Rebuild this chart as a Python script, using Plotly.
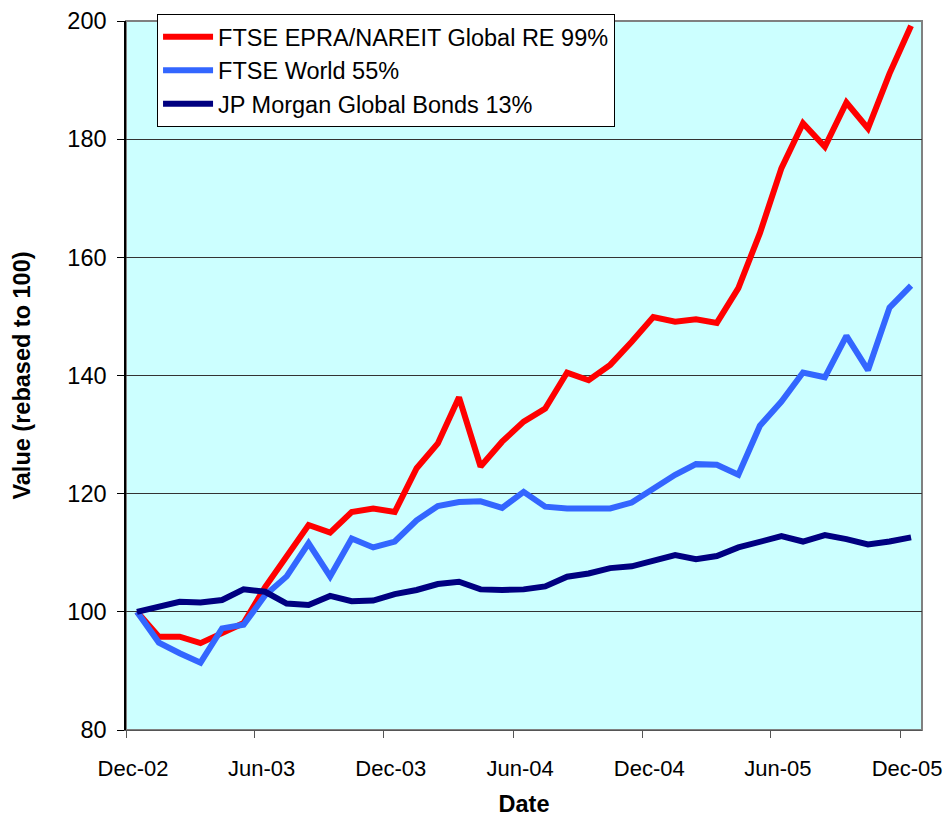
import plotly.graph_objects as go

# Monthly observations, Dec-02 .. Dec-05
months = [f"{2002 + (11 + i) // 12}-{(11 + i) % 12 + 1:02d}" for i in range(37)]

series_names = [
    "FTSE EPRA/NAREIT Global RE 99%",
    "FTSE World 55%",
    "JP Morgan Global Bonds 13%",
]

global_re = [100, 95.8, 95.8, 94.7, 96.4, 98.1, 104.2, 109.3, 114.7, 113.4,
             116.9, 117.5, 116.9, 124.3, 128.5, 136.3, 124.6, 128.8, 132.2, 134.4,
             140.5, 139.2, 141.8, 145.7, 149.9, 149.1, 149.5, 148.9, 154.8, 164.1,
             175.1, 182.7, 178.7, 186.2, 181.8, 191.1, 199.2]

ftse_world = [100, 94.8, 93.0, 91.4, 97.2, 97.8, 102.8, 106.0, 111.6, 106.0,
              112.4, 110.9, 111.9, 115.5, 117.9, 118.6, 118.7, 117.6, 120.3, 117.8,
              117.5, 117.5, 117.5, 118.5, 120.7, 123.2, 125.0, 124.9, 123.2, 131.5,
              135.6, 140.5, 139.7, 146.7, 140.9, 151.5, 155.2]

jpm_bonds = [100, 100.8, 101.7, 101.6, 102.0, 103.8, 103.4, 101.4, 101.15, 102.7,
             101.8, 101.9, 103.0, 103.7, 104.7, 105.1, 103.8, 103.7, 103.8, 104.3,
             105.95, 106.5, 107.4, 107.7, 108.6, 109.6, 108.9, 109.45, 110.9, 111.9,
             112.8, 111.9, 113.0, 112.3, 111.4, 111.9, 112.6]

colors = ["#FF0000", "#3366FF", "#000080"]

FONT = "Liberation Sans, Arial, sans-serif"
FS = 23.5

fig = go.Figure()
for name, vals, col in zip(series_names, [global_re, ftse_world, jpm_bonds], colors):
    fig.add_trace(go.Scatter(
        x=months, y=vals, name=name, mode="lines",
        xperiod="M1", xperiodalignment="middle",
        line=dict(color=col, width=6),
    ))

# page body has an 8px default margin, so the figure is sized/offset to compensate
fig.update_layout(
    width=943, height=809,
    margin=dict(l=118, r=29, t=13, b=87, autoexpand=False),
    paper_bgcolor="white",
    plot_bgcolor="#CCFFFF",
    font=dict(family=FONT, size=FS, color="black"),
    showlegend=True,
    legend=dict(
        x=0.039, xanchor="left", y=1.01, yanchor="top",
        bgcolor="white", bordercolor="black", borderwidth=1,
        font=dict(family=FONT, size=FS, color="black"),
        itemwidth=50,
        tracegroupgap=0,
    ),
    shapes=[dict(type="rect", xref="paper", yref="paper", x0=0, x1=1, y0=0, y1=1,
                 line=dict(color="#808080", width=2), layer="below")],
)

fig.update_xaxes(
    type="date",
    range=["2002-12-01", "2006-01-01"],
    tick0="2002-12-01", dtick="M6", tickformat="%b-%y",
    ticks="outside", ticklen=7, tickcolor="#555555", tickwidth=1,
    showline=True, linecolor="#555555", linewidth=1,
    showgrid=False, zeroline=False,
    ticklabelshift=7, ticklabelstandoff=12,
    ticklabeloverflow="allow",
    tickfont=dict(family=FONT, size=22),
    automargin=False,
    title=dict(text="<b>Date</b>", font=dict(family=FONT, size=FS), standoff=27),
)

fig.update_yaxes(
    range=[80, 200], dtick=20, tick0=80,
    ticks="outside", ticklen=7, tickcolor="black", tickwidth=1,
    showline=True, linecolor="black", linewidth=1.5,
    showgrid=True, gridcolor="#333333", gridwidth=1,
    zeroline=False,
    ticklabelstandoff=6,
    tickfont=dict(family=FONT, size=FS),
    automargin=False,
    title=dict(text="<b>Value (rebased to 100)</b>", font=dict(family=FONT, size=FS), standoff=30),
)

fig.write_html("out.html")
